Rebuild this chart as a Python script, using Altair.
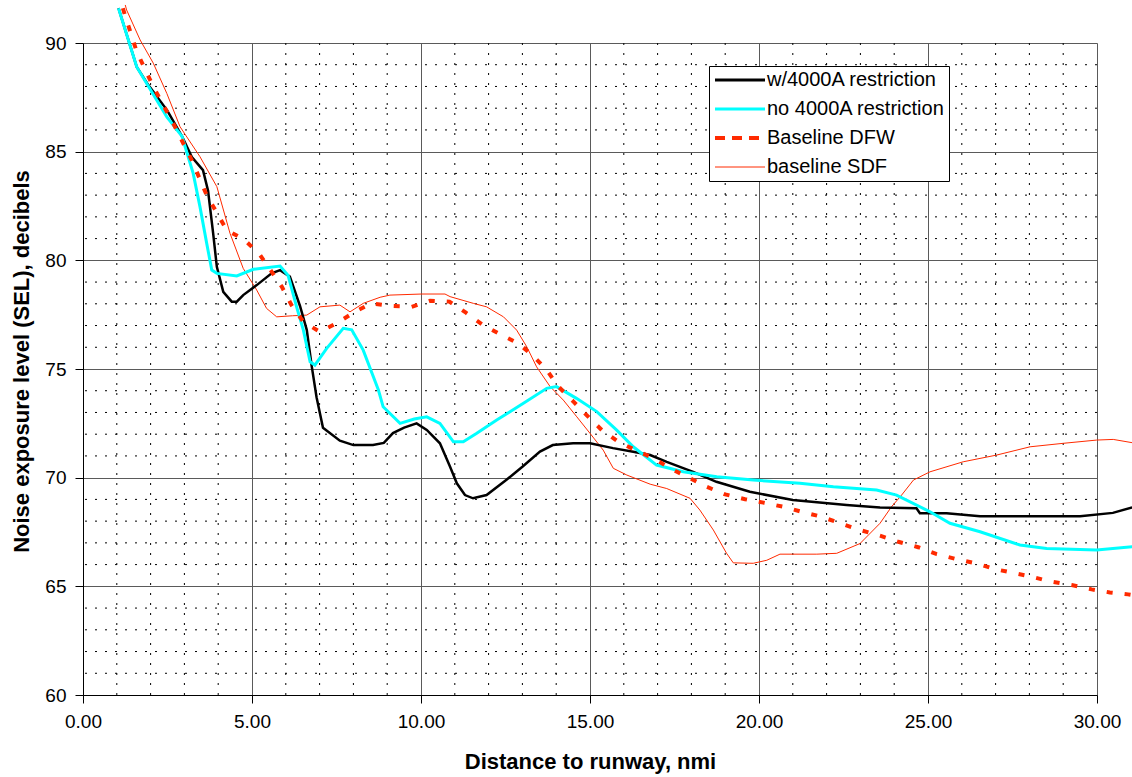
import altair as alt
import pandas as pd

SERIES = ["w/4000A restriction", "no 4000A restriction", "Baseline DFW", "baseline SDF"]
COLORS = ["#000000", "#00FFFF", "#FF2A00", "#FF2A00"]

w4000_x = [1.05, 1.59, 1.89, 2.49, 2.93, 3.22, 3.55, 3.70, 3.85, 3.96, 4.15, 4.40, 4.55, 4.74, 5.14, 5.58, 5.83, 6.12, 6.42, 6.62, 6.77, 6.91, 7.1, 7.6, 8.0, 8.58, 8.9, 9.17, 9.5, 9.87, 10.17, 10.56, 10.86, 11.06, 11.3, 11.54, 11.94, 12.53, 13.0, 13.52, 13.9, 14.5, 15.0, 15.68, 16.28, 16.78, 17.27, 18.05, 18.74, 19.73, 21.0, 22.59, 23.58, 24.66, 24.76, 25.55, 26.54, 29.5, 30.47, 31.04]
w4000_y = [91.6, 88.9, 88.16, 86.9, 85.7, 84.75, 84.15, 83.2, 81.25, 79.7, 78.55, 78.1, 78.1, 78.4, 78.86, 79.4, 79.55, 79.25, 77.9, 76.8, 75.1, 73.7, 72.3, 71.7, 71.5, 71.5, 71.6, 72.05, 72.3, 72.5, 72.2, 71.58, 70.5, 69.74, 69.2, 69.05, 69.2, 69.9, 70.5, 71.2, 71.5, 71.58, 71.58, 71.36, 71.19, 71.04, 70.73, 70.27, 69.81, 69.35, 68.97, 68.74, 68.63, 68.59, 68.36, 68.36, 68.23, 68.23, 68.38, 68.63]

no4000_x = [1.05, 1.59, 2.48, 2.93, 3.26, 3.46, 3.66, 3.81, 3.96, 4.55, 5.04, 5.83, 6.07, 6.32, 6.52, 6.72, 6.86, 7.21, 7.7, 7.95, 8.29, 8.74, 8.88, 9.38, 9.8, 10.17, 10.56, 10.96, 11.25, 11.65, 12.24, 13.03, 13.72, 14.01, 14.6, 15.2, 15.79, 16.28, 16.97, 17.76, 18.75, 19.83, 21.21, 22.2, 23.48, 24.07, 25.06, 25.65, 26.54, 27.72, 28.51, 29.99, 31.04]
no4000_y = [91.6, 88.9, 86.6, 85.7, 84.0, 82.47, 80.78, 79.55, 79.4, 79.28, 79.59, 79.74, 79.3, 77.86, 76.79, 75.33, 75.18, 75.95, 76.87, 76.8, 75.87, 74.03, 73.26, 72.5, 72.7, 72.8, 72.5, 71.65, 71.65, 72.04, 72.65, 73.42, 74.11, 74.19, 73.65, 73.04, 72.19, 71.42, 70.58, 70.27, 70.04, 69.89, 69.74, 69.58, 69.43, 69.2, 68.43, 67.9, 67.51, 66.9, 66.74, 66.67, 66.82]

dfw_x = [1.18, 1.24, 1.59, 2.08, 2.67, 3.22, 3.66, 4.25, 4.79, 5.24, 5.58, 5.88, 6.17, 6.52, 7.01, 7.5, 8.05, 8.54, 9.13, 9.72, 10.27, 10.84, 11.33, 11.84, 12.34, 12.88, 13.32, 13.72, 14.06, 14.51, 14.9, 15.35, 15.84, 16.38, 16.88, 17.37, 17.91, 18.45, 19.0, 19.59, 20.13, 20.72, 21.26, 21.85, 22.4, 22.99, 23.58, 24.12, 24.71, 25.26, 25.85, 26.44, 26.98, 27.52, 28.07, 28.66, 29.25, 29.84, 30.38, 30.92, 31.04]
dfw_y = [91.6, 91.29, 89.6, 87.99, 86.3, 84.6, 83.0, 81.4, 80.93, 80.24, 79.48, 78.79, 77.94, 77.17, 76.71, 77.1, 77.64, 78.02, 77.9, 77.86, 78.14, 78.1, 77.59, 77.02, 76.6, 76.18, 75.6, 74.95, 74.2, 73.5, 72.88, 72.19, 71.65, 71.24, 70.89, 70.43, 70.01, 69.58, 69.23, 69.01, 68.85, 68.66, 68.43, 68.2, 67.9, 67.59, 67.33, 67.05, 66.8, 66.48, 66.25, 66.05, 65.79, 65.62, 65.44, 65.21, 65.06, 64.86, 64.72, 64.63, 64.6]

sdf_x = [1.25, 1.29, 1.69, 2.08, 2.48, 2.87, 3.46, 3.96, 4.35, 4.74, 5.14, 5.43, 5.73, 6.2, 6.62, 7.01, 7.6, 7.9, 8.29, 8.79, 9.08, 10.02, 10.71, 10.86, 11.55, 11.94, 12.44, 12.83, 13.13, 13.42, 13.82, 14.21, 14.61, 15.0, 15.39, 15.69, 16.09, 16.78, 17.27, 17.96, 18.25, 18.65, 19.04, 19.24, 19.83, 20.23, 20.62, 21.71, 22.3, 22.99, 23.58, 23.92, 24.22, 24.57, 25.06, 26.04, 27.03, 28.02, 29.0, 29.99, 30.48, 31.04]
sdf_y = [91.75, 91.52, 90.14, 89.07, 87.68, 86.15, 84.77, 83.39, 81.24, 79.63, 78.63, 77.79, 77.4, 77.45, 77.48, 77.86, 77.94, 77.63, 78.02, 78.3, 78.4, 78.45, 78.45, 78.33, 78.02, 77.86, 77.4, 76.79, 76.02, 75.1, 74.19, 73.57, 72.8, 72.04, 71.27, 70.43, 70.12, 69.7, 69.5, 69.05, 68.51, 67.59, 66.52, 66.08, 66.06, 66.2, 66.48, 66.48, 66.52, 66.97, 67.9, 68.66, 69.2, 69.89, 70.27, 70.73, 71.04, 71.42, 71.58, 71.73, 71.76, 71.61]

x_major = [0, 5, 10, 15, 20, 25, 30]
y_major = [60, 65, 70, 75, 80, 85, 90]
x_minor = [v for v in range(1, 30) if v % 5 != 0]
y_minor = [v for v in range(61, 90) if v % 5 != 0]

frames = []
for name, xs, ys in [(SERIES[0], w4000_x, w4000_y), (SERIES[1], no4000_x, no4000_y),
                     (SERIES[2], dfw_x, dfw_y), (SERIES[3], sdf_x, sdf_y)]:
    frames.append(pd.DataFrame({"dist": xs, "sel": ys, "series": name, "order": range(len(xs))}))
df = pd.concat(frames, ignore_index=True)

FONT = "Liberation Sans"
W, H = 1014, 652

xscale = alt.Scale(domain=[0, 30], nice=False, zero=False)
yscale = alt.Scale(domain=[60, 90], nice=False, zero=False)

xaxis = alt.Axis(values=x_major, format=".2f", title="Distance to runway, nmi",
                 grid=True, gridColor="#5a5a5a", gridWidth=1,
                 domainColor="black", tickColor="black", tickSize=8,
                 labelFontSize=19, labelFont=FONT, labelColor="black", labelPadding=9,
                 titleFontSize=22, titleFont=FONT, titleFontWeight="bold", titleColor="black",
                 titlePadding=20, labelFlush=False)
yaxis = alt.Axis(values=y_major, format="d", title="Noise exposure level (SEL), decibels",
                 grid=True, gridColor="#5a5a5a", gridWidth=1,
                 domainColor="black", tickColor="black", tickSize=8,
                 labelFontSize=19, labelFont=FONT, labelColor="black", labelPadding=9,
                 titleFontSize=22, titleFont=FONT, titleFontWeight="bold", titleColor="black",
                 titlePadding=11, titleY=318)

legend = alt.Legend(
    title=None, orient="none", legendX=626, legendY=23,
    strokeColor="black", fillColor="white", padding=4,
    labelFont=FONT, labelFontSize=20, labelColor="black", labelOffset=17, labelLimit=400,
    symbolType="stroke", symbolSize=2500, rowPadding=9, symbolOffset=17,
    symbolStrokeWidth={"expr": "datum.value === 'baseline SDF' ? 1 : (datum.value === 'Baseline DFW' ? 4 : 3)"},
    symbolDash={"expr": "datum.value === 'Baseline DFW' ? [10, 7] : [1, 0]"},
)

vminor = alt.Chart(pd.DataFrame({"gx": x_minor})).mark_rule(
    color="black", strokeWidth=1, strokeDash=[2, 8]
).encode(x=alt.X("gx:Q", scale=xscale, axis=xaxis))

hminor = alt.Chart(pd.DataFrame({"gy": y_minor})).mark_rule(
    color="black", strokeWidth=1, strokeDash=[2, 8]
).encode(y=alt.Y("gy:Q", scale=yscale, axis=yaxis))

base = alt.Chart(df).encode(
    x=alt.X("dist:Q", scale=xscale, axis=xaxis),
    y=alt.Y("sel:Q", scale=yscale, axis=yaxis),
    color=alt.Color("series:N", scale=alt.Scale(domain=SERIES, range=COLORS), legend=legend),
    order="order:Q",
)

styles = {
    SERIES[3]: dict(strokeWidth=1),
    SERIES[0]: dict(strokeWidth=2.5),
    SERIES[1]: dict(strokeWidth=3),
    SERIES[2]: dict(strokeWidth=4, strokeDash=[6, 12]),
}
line_layers = []
for s in [SERIES[3], SERIES[0], SERIES[1], SERIES[2]]:
    line_layers.append(
        base.transform_filter(alt.datum.series == s).mark_line(clip=False, **styles[s])
    )

chart = alt.layer(vminor, hminor, *line_layers).properties(
    width=W, height=H,
    autosize=alt.AutoSizeParams(type="none"),
    padding={"left": 83, "top": 43, "right": 35, "bottom": 82},
).configure_view(stroke=None).configure(background="white")

chart.save("out.html", embed_options={"renderer": "svg", "actions": False})
